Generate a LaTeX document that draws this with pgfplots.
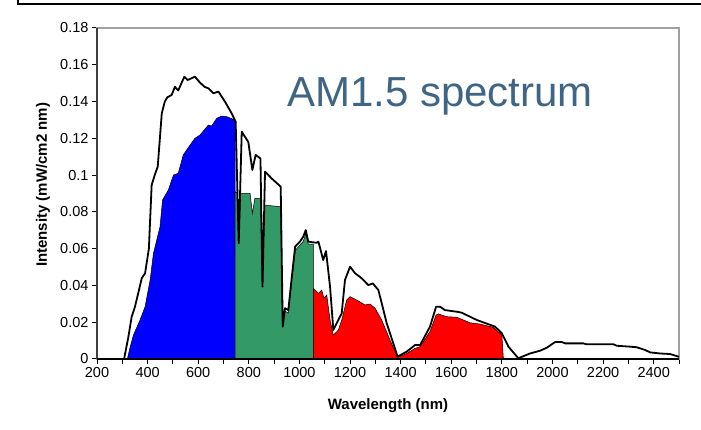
\documentclass[border=0pt]{standalone}
\usepackage{fontspec}
\setmainfont{Liberation Sans}
\usepackage{pgfplots}
\usepackage{pgfplotstable}
\pgfplotsset{compat=1.18}

\definecolor{amblue}{RGB}{0,0,255}
\definecolor{amgreen}{RGB}{51,153,102}
\definecolor{amred}{RGB}{255,0,0}
\definecolor{titleblue}{RGB}{62,101,133}
\definecolor{boxgray}{RGB}{160,160,160}

% AM1.5 spectral irradiance (mW/cm2 nm)
\pgfplotstableread{
lambda I
200 0
300 0
307 0
324 0.012
337 0.023
350 0.0284
365 0.037
377 0.044
390 0.0466
405 0.060
416 0.0946
428 0.100
440 0.1046
456 0.1336
468 0.140
478 0.1423
495 0.1436
508 0.148
521 0.146
545 0.1535
558 0.1517
587 0.1535
607 0.1503
625 0.148
640 0.1472
660 0.1445
680 0.1454
706 0.1399
732 0.1336
748 0.129
760 0.0629
772 0.1236
798 0.118
814 0.1028
827 0.111
846 0.109
854 0.0393
864 0.1019
890 0.0982
926 0.0937
934 0.0176
943 0.0276
956 0.0266
970 0.0448
983 0.0611
1002 0.0638
1015 0.0665
1025 0.0701
1035 0.0638
1068 0.0632
1075 0.0638
1094 0.0538
1105 0.0587
1121 0.0393
1134 0.0158
1147 0.0194
1167 0.0248
1180 0.043
1200 0.0502
1220 0.0466
1246 0.0439
1272 0.0402
1290 0.0411
1312 0.0375
1345 0.0194
1388 0.0013
1424 0.004
1457 0.0076
1477 0.0076
1516 0.0176
1540 0.0284
1556 0.0284
1575 0.0266
1622 0.0257
1641 0.0252
1701 0.0212
1773 0.0176
1800 0.014
1826 0.0067
1865 0.0004
1911 0.003
1951 0.0045
1977 0.0061
2010 0.0092
2037 0.0092
2050 0.0085
2122 0.0085
2135 0.008
2241 0.008
2254 0.0072
2307 0.0067
2333 0.0064
2366 0.0049
2386 0.0036
2425 0.003
2465 0.0027
2500 0.0012
}\spectrum

% band absorbed by the top cell
\pgfplotstableread{
lambda I
320 0
330 0.006
344 0.013
370 0.0212
390 0.0284
410 0.043
423 0.0574
449 0.0719
459 0.0865
482 0.0919
502 0.1
521 0.101
541 0.111
568 0.1164
587 0.12
607 0.1218
640 0.1272
653 0.1267
673 0.1309
693 0.1321
713 0.1318
739 0.1303
746 0.129
746 0
}\bandblue

% band absorbed by the middle cell
\pgfplotstableread{
lambda I
746 0
746 0.091
755 0.0901
760 0.0629
768 0.0901
805 0.0901
814 0.0792
824 0.0874
846 0.0874
854 0.0393
862 0.0837
926 0.0828
933 0.0176
943 0.026
956 0.025
970 0.043
983 0.059
1002 0.062
1015 0.064
1025 0.068
1035 0.0625
1055 0.0625
1055 0
}\bandgreen

% band absorbed by the bottom cell
\pgfplotstableread{
lambda I
1055 0
1055 0.0384
1075 0.0357
1088 0.0375
1097 0.033
1108 0.0348
1121 0.0212
1134 0.013
1154 0.0158
1167 0.0212
1187 0.0321
1200 0.0339
1226 0.0321
1259 0.0294
1279 0.0299
1299 0.0276
1325 0.0212
1358 0.0103
1388 0.0010
1424 0.003
1457 0.0058
1477 0.0067
1516 0.015
1540 0.0239
1549 0.0245
1582 0.023
1622 0.0227
1674 0.0197
1714 0.019
1766 0.0172
1793 0.014
1800 0.013
1806 0
}\bandred

\begin{document}
\begin{tikzpicture}[x=1pt,y=1pt]
\useasboundingbox (0,0) rectangle (701,430);
% chart area frame
\draw[black, line width=1.3pt] (18,430) -- (18,426) -- (701,426);

\begin{axis}[
  at={(97pt,71pt)}, anchor=south west,
  scale only axis, width=582pt, height=331pt,
  xmin=200, xmax=2500, ymin=0, ymax=0.18,
  clip=false,
  axis line style={boxgray, line width=1.2pt},
  tick align=outside,
  xtick pos=bottom, ytick pos=left,
  major tick length=5pt, minor tick length=5pt,
  every tick/.style={black, line width=1pt},
  xtick={200,400,...,2400},
  minor xtick={300,500,...,2500},
  ytick={0,0.02,0.04,0.06,0.08,0.1,0.12,0.14,0.16,0.18},
  yticklabels={0,0.02,0.04,0.06,0.08,0.1,0.12,0.14,0.16,0.18},
  scaled y ticks=false,
  /pgf/number format/assume math mode=true,
  /pgf/number format/1000 sep={},
  tick label style={font=\fontsize{14.5}{16}\selectfont},
  xlabel={Wavelength (nm)},
  ylabel={Intensity (mW/cm2 nm)},
  label style={font=\bfseries\fontsize{15}{17}\selectfont},
  xlabel style={at={(axis description cs:0.5,-0.142)}, anchor=center},
  ylabel style={at={(axis description cs:-0.0928,0.526)}, anchor=center, rotate=0},
]
\addplot[fill=amblue, draw=black, line width=0.5pt] table[x=lambda,y=I] {\bandblue} -- cycle;
\addplot[fill=amgreen, draw=black, line width=0.5pt] table[x=lambda,y=I] {\bandgreen} -- cycle;
\addplot[fill=amred, draw=black, line width=0.5pt] table[x=lambda,y=I] {\bandred} -- cycle;
\addplot[black, line width=1.8pt, line join=round] table[x=lambda,y=I] {\spectrum};
% axis lines drawn over the data
\draw[gray!50!black, line width=1.2pt] (rel axis cs:0,0) -- (rel axis cs:0,1);
\draw[black, line width=2.4pt] (rel axis cs:0,0) -- (rel axis cs:1,0);
\end{axis}

\node[anchor=base west, inner sep=0pt, text=titleblue,
      font=\fontsize{42}{48}\selectfont] at (287,323) {AM1.5 spectrum};
\end{tikzpicture}
\end{document}
